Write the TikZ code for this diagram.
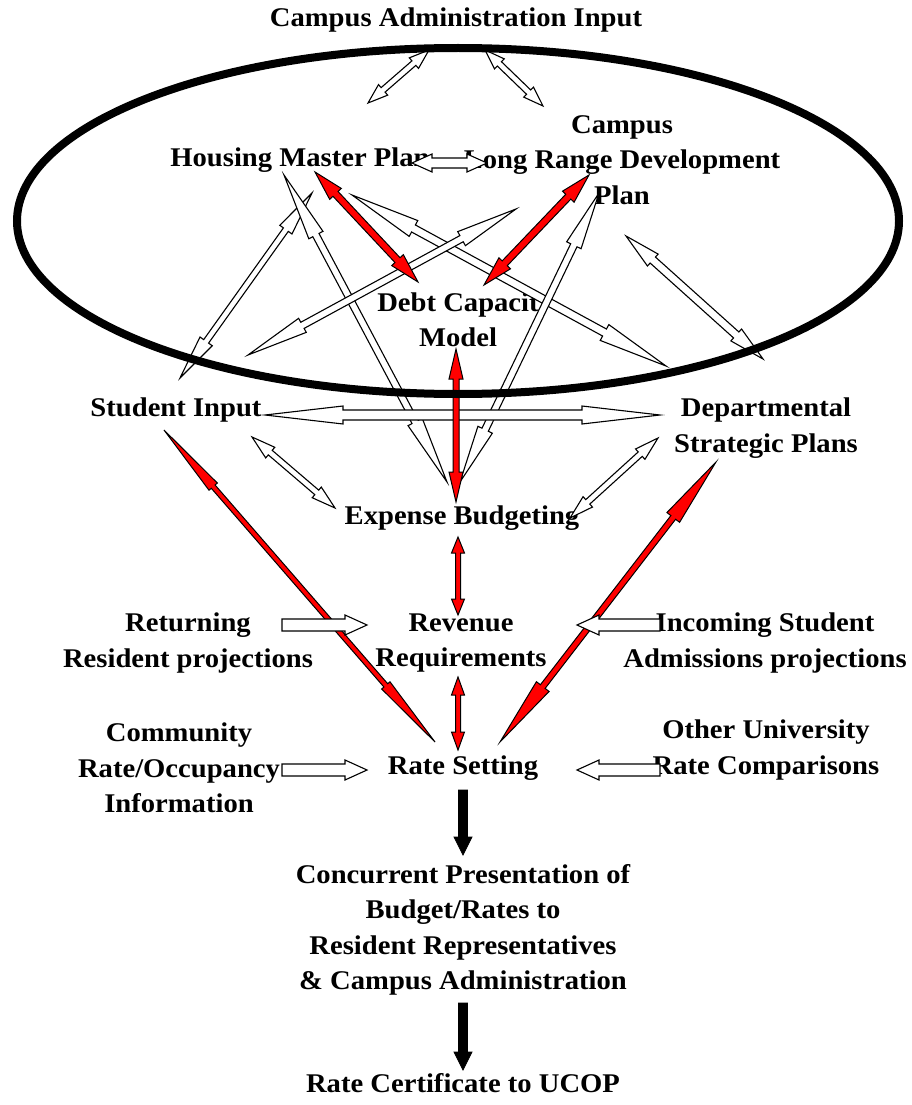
\documentclass[tikz,border=0pt]{standalone}
\usepackage{fontspec}
\setmainfont[FakeStretch=1.06]{Liberation Serif}
\usetikzlibrary{calc}

% block arrow, heads at both ends: [style]{half shaft}{half head}{head length}{from}{to}
\newcommand\dblarrow[6][]{%
  \draw[#1] (#5)
    -- ($(#5)!#4pt!(#6)!#3pt!90:(#6)$) -- ($(#5)!#4pt!(#6)!#2pt!90:(#6)$)
    -- ($(#6)!#4pt!(#5)!#2pt!-90:(#5)$) -- ($(#6)!#4pt!(#5)!#3pt!-90:(#5)$)
    -- (#6)
    -- ($(#6)!#4pt!(#5)!#3pt!90:(#5)$) -- ($(#6)!#4pt!(#5)!#2pt!90:(#5)$)
    -- ($(#5)!#4pt!(#6)!#2pt!-90:(#6)$) -- ($(#5)!#4pt!(#6)!#3pt!-90:(#6)$)
    -- cycle;}
% block arrow, one head: [style]{half shaft}{half head}{head length}{tail}{tip}
\newcommand\onearrow[6][]{%
  \draw[#1] ($(#5)!#2pt!90:(#6)$)
    -- ($(#6)!#4pt!(#5)!#2pt!-90:(#5)$) -- ($(#6)!#4pt!(#5)!#3pt!-90:(#5)$)
    -- (#6)
    -- ($(#6)!#4pt!(#5)!#3pt!90:(#5)$) -- ($(#6)!#4pt!(#5)!#2pt!90:(#5)$)
    -- ($(#5)!#2pt!-90:(#6)$) -- cycle;}

\begin{document}
\begin{tikzpicture}[x=1pt, y=-1pt,
  lbl/.style={font=\bfseries\fontsize{27}{35.5}\selectfont, align=center, inner sep=0pt},
  hollow/.style={draw=black, fill=white, line width=1.1pt},
  redarr/.style={draw=black, fill=red, line width=1pt},
  blk/.style={draw=black, fill=black, line width=0.8pt},
  ring/.style={line width=8pt},
]
  \useasboundingbox (0,0) rectangle (911,1105);

  % --- labels ---
  \node[lbl] (cai)  at (456,20)  {Campus Administration Input};
  \node[lbl] (hmp)  at (300,160) {Housing Master Plan};
  \node[lbl] (lrdp) at (622,160) {Campus\\Long Range Development\\Plan};
  \node[lbl] (debt) at (458,320) {Debt Capacit\\Model};
  \node[lbl] (stu)  at (176,410) {Student Input};
  \node[lbl] (dept) at (766,428) {Departmental\\Strategic Plans};
  \node[lbl] (exp)  at (462,518) {Expense Budgeting};
  \node[lbl] (rev)  at (461,643) {Revenue\\Requirements};
  \node[lbl] (ret)  at (188,643) {Returning\\Resident projections};
  \node[lbl] (inc)  at (765,643) {Incoming Student\\Admissions projections};
  \node[lbl] (rate) at (463,768) {Rate Setting};
  \node[lbl] (com)  at (179,768) {Community\\Rate/Occupancy\\Information};
  \node[lbl] (oth)  at (766,750) {Other University\\Rate Comparisons};
  \node[lbl] (conc) at (463,930) {Concurrent Presentation of\\Budget/Rates to\\Resident Representatives\\\& Campus Administration};
  \node[lbl] (cert) at (463,1083) {Rate Certificate to UCOP};

  % --- arrow ends ---
  \coordinate (caiA) at (429,50);   \coordinate (hmpA) at (368,103);
  \coordinate (caiB) at (485,50);   \coordinate (lrdpA) at (543,106);
  \coordinate (hmpB) at (412,163);  \coordinate (lrdpB) at (487,163);
  \coordinate (stuA) at (180,378);  \coordinate (hmpC) at (312,193);
  \coordinate (hmpD) at (284,175);  \coordinate (expA) at (447,482);
  \coordinate (hmpE) at (352,195);  \coordinate (deptA) at (666,366);
  \coordinate (lrdpC) at (516,209); \coordinate (stuB) at (248,355);
  \coordinate (lrdpD) at (599,193); \coordinate (expB) at (460,482);
  \coordinate (lrdpE) at (626,236); \coordinate (deptB) at (763,359);
  \coordinate (stuC) at (265,415);  \coordinate (deptC) at (660,415);
  \coordinate (stuD) at (252,437);  \coordinate (expC) at (335,508);
  \coordinate (deptD) at (658,438); \coordinate (expD) at (570,518);
  \coordinate (hmpF) at (315,172);  \coordinate (debtA) at (418,282);
  \coordinate (lrdpF) at (589,175); \coordinate (debtB) at (484,285);
  \coordinate (debtC) at (456,349); \coordinate (expE) at (456,502);
  \coordinate (expF) at (458,537);  \coordinate (revA) at (458,615);
  \coordinate (revB) at (458,677);  \coordinate (rateA) at (458,750);
  \coordinate (stuE) at (164,430);  \coordinate (rateB) at (435,742);
  \coordinate (deptE) at (716,462); \coordinate (rateC) at (500,742);
  \coordinate (retA) at (282,625);  \coordinate (revC) at (367,625);
  \coordinate (incA) at (660,625);  \coordinate (revD) at (577,625);
  \coordinate (comA) at (282,770);  \coordinate (rateD) at (367,770);
  \coordinate (othA) at (660,770);  \coordinate (rateE) at (577,770);
  \coordinate (rateF) at (463,790); \coordinate (concA) at (463,855);
  \coordinate (concB) at (463,1003); \coordinate (certA) at (463,1070);

  % --- two-way links (white) ---
  \dblarrow[hollow]{3}{7}{20}{caiA}{hmpA}
  \dblarrow[hollow]{3}{7}{20}{caiB}{lrdpA}
  \dblarrow[hollow]{5}{9}{20}{hmpB}{lrdpB}
  \dblarrow[hollow]{3}{7.5}{45}{stuA}{hmpC}
  \dblarrow[hollow]{3.5}{8}{68}{hmpD}{expA}
  \dblarrow[hollow]{4}{9}{70}{hmpE}{deptA}
  \dblarrow[hollow]{3.5}{8}{62}{lrdpC}{stuB}
  \dblarrow[hollow]{3.5}{8}{58}{lrdpD}{expB}
  \dblarrow[hollow]{4}{8}{36}{lrdpE}{deptB}
  \dblarrow[hollow]{5}{9}{78}{stuC}{deptC}
  \dblarrow[hollow]{3}{7}{24}{stuD}{expC}
  \dblarrow[hollow]{3}{7}{24}{deptD}{expD}

  % --- two-way links (red) ---
  \dblarrow[redarr]{3.5}{8}{30}{hmpF}{debtA}
  \dblarrow[redarr]{3.5}{8}{30}{lrdpF}{debtB}
  \dblarrow[redarr]{3}{7}{30}{debtC}{expE}
  \dblarrow[redarr]{2.5}{6.5}{16}{expF}{revA}
  \dblarrow[redarr]{2.5}{6.5}{18}{revB}{rateA}
  \dblarrow[redarr]{2.5}{5.5}{75}{stuE}{rateB}
  \dblarrow[redarr]{3}{8}{70}{deptE}{rateC}

  % --- one-way inputs ---
  \onearrow[hollow]{6}{10}{22}{retA}{revC}
  \onearrow[hollow]{6}{10}{22}{incA}{revD}
  \onearrow[hollow]{6}{10}{22}{comA}{rateD}
  \onearrow[hollow]{6}{10}{22}{othA}{rateE}
  \onearrow[blk]{4.5}{9}{18}{rateF}{concA}
  \onearrow[blk]{4.5}{9}{18}{concB}{certA}

  % --- ring round the planning group ---
  \draw[ring] (458,221) ellipse [x radius=441pt, y radius=173pt];
\end{tikzpicture}
\end{document}
